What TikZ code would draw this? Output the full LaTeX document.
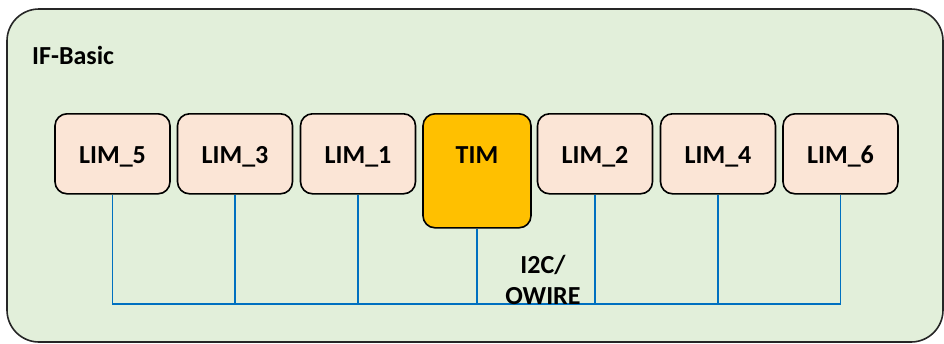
\documentclass[tikz,border=0pt]{standalone}
\usepackage{fontspec}
\setmainfont{Carlito}
\definecolor{outerfill}{HTML}{E2EFDA}
\definecolor{limfill}{HTML}{FBE5D6}
\definecolor{timfill}{HTML}{FFC000}
\definecolor{wireblue}{HTML}{0070C0}
\begin{document}
\begin{tikzpicture}[x=1bp,y=-1bp,
  every node/.style={font=\fontsize{26bp}{31bp}\selectfont\bfseries},
  limbox/.style={draw=black, line width=1.6bp, fill=limfill, rounded corners=12bp,
    minimum width=115bp, inner xsep=0pt, inner ysep=0pt, text height=50bp, text depth=30bp},
  timbox/.style={draw=black, line width=1.6bp, fill=timfill, rounded corners=12bp,
    minimum width=108bp, inner xsep=0pt, inner ysep=0pt, text height=50bp, text depth=64bp},
  wire/.style={draw=wireblue, line width=1.9bp},
  outerbox/.style={draw=black!85, line width=1.6bp, fill=outerfill, rounded corners=32bp}]
\useasboundingbox (0,0) rectangle (944,343);
\path[outerbox] (7,9) rectangle (943,342);
\node[anchor=base west, inner sep=0pt] (title) at (32,64) {IF-Basic};
\node[limbox, anchor=north] (l5) at (112.5,113) {LIM\_5};
\node[limbox, anchor=north] (l3) at (235,113) {LIM\_3};
\node[limbox, anchor=north] (l1) at (358,113) {LIM\_1};
\node[timbox, anchor=north] (tim) at (477,113) {TIM};
\node[limbox, anchor=north] (l2) at (595,113) {LIM\_2};
\node[limbox, anchor=north] (l4) at (718,113) {LIM\_4};
\node[limbox, anchor=north] (l6) at (840.5,113) {LIM\_6};
\coordinate (bus) at (0,304);
\draw[wire] (l5.south) -- (l5.south|-bus) -- (l6.south|-bus) -- (l6.south);
\foreach \n in {l3,l1,tim,l2,l4} \draw[wire] (\n.south) -- (\n.south|-bus);
\node[align=center, inner sep=0pt] (bl) at (543,280) {I2C/\\OWIRE};
\end{tikzpicture}
\end{document}
